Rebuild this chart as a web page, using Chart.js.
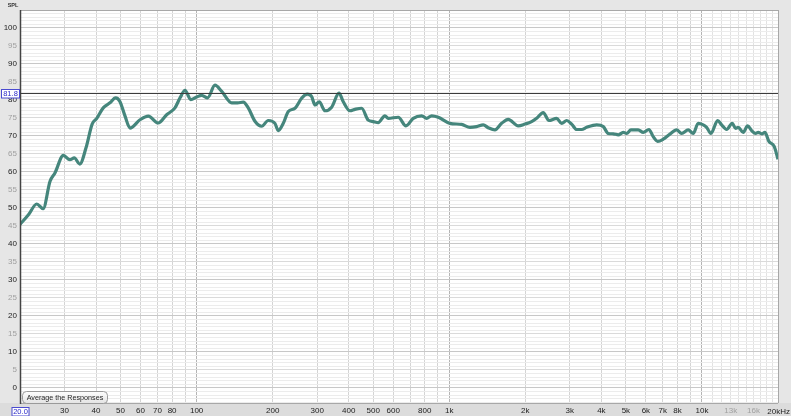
<!DOCTYPE html>
<html>
<head>
<meta charset="utf-8">
<script src="https://cdn.jsdelivr.net/npm/chart.js@4.4.1/dist/chart.umd.min.js"></script>
<style>
  html, body { margin: 0; padding: 0; background: #e6e6e6; }
  #wrap { width: 791px; height: 416px; }
</style>
</head>
<body>
<div id="wrap"><canvas id="grafico-spl" width="791" height="416"></canvas></div>
<script>
var freqs = [20, 21.6, 23.3, 24.7, 26.3, 27.5, 29.7, 31.5, 32.8, 34.5, 36.5, 38.6, 40.2, 42.7, 45.4, 47.8,
    49.7, 52.1, 54.5, 59.7, 64.4, 70.5, 76.1, 82.1, 86, 90, 94.8, 100, 104.7, 110.6, 118.2, 125.7,
    137.7, 145.4, 153, 160.1, 170.2, 180.9, 192.1, 204.2, 210.4, 220.3, 230.6, 245, 260.6, 274.2,
    285.4, 294.2, 305.8, 322.2, 342.4, 366, 380.6, 404.6, 423.4, 450, 477.8, 500.2, 523.4, 556.4,
    573.6, 628.2, 673.8, 720.2, 777.4, 813.6, 851.6, 904.4, 1006, 1119, 1207, 1283, 1363, 1426,
    1516, 1611, 1711, 1875, 1993, 2118, 2217, 2354, 2480, 2660, 2784, 2915, 3050, 3192, 3342,
    3497, 3831, 4068, 4258, 4457, 4665, 4882, 5035, 5235, 5595, 5856, 6168, 6414, 6676, 7027,
    7468, 7938, 8308, 8822, 9234, 9666, 10116, 10435, 10852, 11536, 11963, 12522, 13180, 13592,
    13918, 14568, 15164, 15726, 16308, 16700, 17318, 17752, 18410, 19316, 20000];
var spl = [45.4, 48.1, 51.1, 49.8, 57.4, 59.7, 64.6, 63.4, 63.9, 62.2, 66.7, 73.3, 74.8, 77.8, 79.2, 80.6,
    79.6, 75.5, 72.2, 74.5, 75.5, 73.6, 75.9, 77.8, 80.6, 82.7, 80.1, 80.8, 81.3, 80.6, 84.1, 82.4,
    79.2, 79.2, 79.4, 77.8, 74.1, 72.7, 74.3, 73.5, 71.5, 73.5, 76.8, 77.7, 80.5, 81.6,
    80.9, 78.6, 79.5, 77.0, 78.0, 81.9, 79.5, 77.0, 77.4, 77.7, 74.4, 74.0, 73.7, 75.6,
    74.9, 75.2, 72.8, 74.9, 75.6, 74.9, 75.6, 75.2, 73.5, 73.2, 72.4, 72.6, 73.1, 72.3,
    71.7, 73.5, 74.6, 72.8, 73.3, 74.0, 74.9, 76.5, 74.3, 74.9, 73.5, 74.3, 73.3, 71.8, 71.8,
    72.4, 73.1, 72.6, 70.7, 70.6, 70.3, 71.0, 70.7, 71.7, 71.7, 71.0, 71.8, 69.8, 68.5, 69.1,
    70.5, 71.7, 70.7, 71.7, 70.7, 73.5, 73.1, 72.4, 70.7, 74.3, 73.1, 71.8, 73.5, 72.1,
    72.4, 71.0, 72.8, 71.5, 70.7, 71.0, 70.6, 71.0, 68.5, 67.1, 63.5];

var xGrid = [20, 30, 40, 50, 60, 70, 80, 90, 100, 200, 300, 400, 500, 600, 700, 800, 900,
    1000, 2000, 3000, 4000, 5000, 6000, 7000, 8000, 9000, 10000, 11000, 12000, 13000, 14000,
    15000, 16000, 17000, 18000, 19000, 20000];
var xLabels = {30:'30', 40:'40', 50:'50', 60:'60', 70:'70', 80:'80', 100:'100', 200:'200', 300:'300',
    400:'400', 500:'500', 600:'600', 800:'800', 1000:'1k', 2000:'2k', 3000:'3k', 4000:'4k', 5000:'5k',
    6000:'6k', 7000:'7k', 8000:'8k', 10000:'10k', 13000:'13k', 16000:'16k'};
var yMin = -4.2, yMax = 105;
var refLevel = 81.8;

var axisFont = { family: 'Liberation Sans', size: 8 };

var decorPlugin = {
    id: 'decor',
    beforeDraw: function (chart) {
        var c = chart.ctx, a = chart.chartArea;
        c.save();
        c.fillStyle = '#e6e6e6';
        c.fillRect(0, 0, chart.width, chart.height);
        c.fillStyle = '#dcdcdc';
        c.fillRect(0, a.bottom, chart.width, chart.height - a.bottom);
        c.fillStyle = '#ffffff';
        c.fillRect(a.left, a.top, a.right - a.left, a.bottom - a.top);
        c.restore();
    },
    afterDatasetsDraw: function (chart) {
        var c = chart.ctx, a = chart.chartArea;
        var xs = chart.scales.x, ys = chart.scales.y;
        c.save();
        // frame
        c.strokeStyle = '#a8a8a8';
        c.lineWidth = 1;
        c.beginPath();
        c.moveTo(a.left, a.top + 0.5); c.lineTo(a.right, a.top + 0.5);
        c.moveTo(a.right + 0.5, a.top); c.lineTo(a.right + 0.5, a.bottom);
        c.moveTo(a.left, a.bottom + 0.5); c.lineTo(a.right, a.bottom + 0.5);
        c.stroke();
        c.strokeStyle = '#444';
        c.lineWidth = 1.5;
        c.beginPath();
        c.moveTo(a.left + 0.5, a.top); c.lineTo(a.left + 0.5, a.bottom + 1);
        c.stroke();

        // reference level line
        var yr = Math.round(ys.getPixelForValue(refLevel)) + 0.5;
        c.strokeStyle = '#3c3c3c';
        c.lineWidth = 1;
        c.beginPath();
        c.moveTo(a.left, yr); c.lineTo(a.right, yr);
        c.stroke();

        // boxed 81.8 marker
        c.fillStyle = '#ffffff';
        c.fillRect(1.5, yr - 4, 18, 8.5);
        c.strokeStyle = '#4b4bd0';
        c.strokeRect(1.5, yr - 4, 18, 8.5);
        c.fillStyle = '#2a2ac8';
        c.font = '7.5px "Liberation Sans"';
        c.textAlign = 'center';
        c.textBaseline = 'middle';
        c.fillText(refLevel.toFixed(1), 10.5, yr + 0.5);

        // boxed 20.0 marker on the x axis
        var x0 = xs.getPixelForValue(freqs[0]);
        c.fillStyle = '#ffffff';
        c.fillRect(x0 - 8, a.bottom + 4.5, 17, 8.5);
        c.strokeStyle = '#4b4bd0';
        c.strokeRect(x0 - 8, a.bottom + 4.5, 17, 8.5);
        c.fillStyle = '#2a2ac8';
        c.fillText(freqs[0].toFixed(1), x0 + 0.5, a.bottom + 9);

        // 20kHz end label
        c.font = '8px "Liberation Sans"';
        c.fillStyle = '#222';
        c.textAlign = 'right';
        c.fillText('20kHz', chart.width - 1, a.bottom + 8.5);

        // axis title
        c.font = 'bold 5.5px "Liberation Sans"';
        c.textAlign = 'center';
        c.fillStyle = '#333';
        c.fillText('SPL', 13, 5);

        // button
        var bx = 22, by = 391, bw = 85, bh = 12;
        var g = c.createLinearGradient(0, by, 0, by + bh);
        g.addColorStop(0, '#ffffff');
        g.addColorStop(1, '#e4e4e4');
        c.beginPath();
        c.roundRect(bx + 0.5, by + 0.5, bw, bh, 4);
        c.fillStyle = g;
        c.fill();
        c.strokeStyle = '#9a9a9a';
        c.lineWidth = 1;
        c.stroke();
        c.fillStyle = '#1e1e1e';
        c.font = '7.2px "Liberation Sans"';
        c.textAlign = 'center';
        c.fillText('Average the Responses', bx + bw / 2 + 0.5, by + bh / 2 + 1);
        c.restore();
    }
};

function grafSPL() {
    var pontos = freqs.map(function (f, i) { return { x: f, y: spl[i] }; });
    var ctx = document.getElementById('grafico-spl').getContext('2d');
    var mySPLChart = new Chart(ctx, {
        type: 'line',
        data: {
            datasets: [{
                label: 'SPL',
                data: pontos,
                borderColor: '#45867c',
                borderWidth: 3.2,
                pointRadius: 0,
                fill: false,
                cubicInterpolationMode: 'monotone'
            }]
        },
        options: {
            responsive: false,
            animation: false,
            layout: { padding: { top: 10, right: 13, left: 0, bottom: 0 } },
            plugins: { legend: { display: false }, tooltip: { enabled: false } },
            scales: {
                x: {
                    type: 'logarithmic',
                    min: 20,
                    max: 20000,
                    afterBuildTicks: function (s) {
                        s.ticks = xGrid.map(function (v) { return { value: v }; });
                    },
                    afterFit: function (s) { s.height = 13; },
                    border: { display: false },
                    grid: {
                        drawTicks: false,
                        color: function (c) {
                            var v = c.tick ? c.tick.value : 0;
                            if (v === 100 || v === 1000 || v === 10000) return '#b4b4b4';
                            if (v > 10000) return '#e2e2e2';
                            return '#d4d4d4';
                        }
                    },
                    ticks: {
                        autoSkip: false,
                        maxRotation: 0,
                        padding: 3,
                        font: axisFont,
                        color: function (c) {
                            var v = c.tick ? c.tick.value : 0;
                            return (v === 13000 || v === 16000) ? '#a0a0a0' : '#222';
                        },
                        callback: function (v) { return xLabels[v] || ''; }
                    }
                },
                y: {
                    min: yMin,
                    max: yMax,
                    afterBuildTicks: function (s) {
                        var t = [];
                        for (var v = -4; v <= 105; v++) t.push({ value: v });
                        s.ticks = t;
                    },
                    afterFit: function (s) { s.width = 20; },
                    border: { display: false },
                    grid: {
                        drawTicks: false,
                        color: function (c) {
                            var v = c.tick ? c.tick.value : 0;
                            if (v % 10 === 0) return '#c8c8c8';
                            if (v % 5 === 0) return '#dadada';
                            return '#ececec';
                        }
                    },
                    ticks: {
                        autoSkip: false,
                        padding: 3,
                        font: axisFont,
                        color: function (c) {
                            var v = c.tick ? c.tick.value : 0;
                            return v % 10 === 0 ? '#222' : '#a0a0a0';
                        },
                        callback: function (v) {
                            return (v % 5 === 0 && v >= 0 && v <= 100) ? String(v) : '';
                        }
                    }
                }
            }
        },
        plugins: [decorPlugin]
    });
}

grafSPL();
</script>
</body>
</html>
